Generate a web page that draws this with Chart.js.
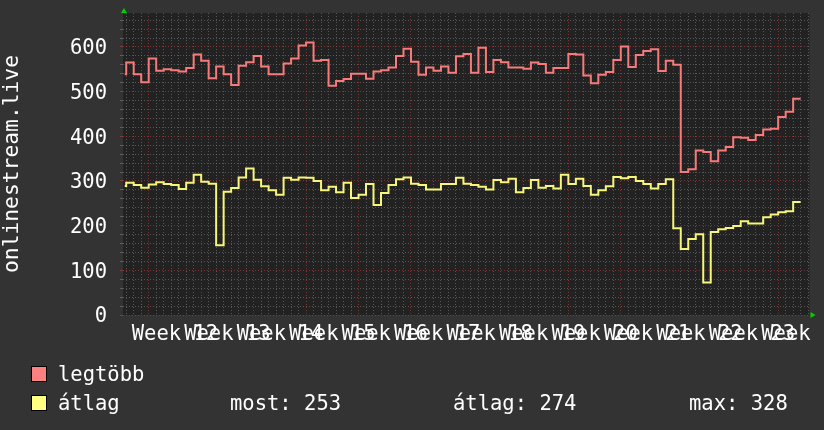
<!DOCTYPE html>
<html>
<head>
<meta charset="utf-8">
<title>onlinestream.live</title>
<script src="https://cdn.jsdelivr.net/npm/chart.js@4.4.1/dist/chart.umd.min.js"></script>
<style>
  html, body { margin: 0; padding: 0; background: #333333; }
  canvas { display: block; }
</style>
</head>
<body>
<canvas id="chart" width="824" height="430"></canvas>
<script>
// Daily values, first entry is day -4 (partly visible), week 12 starts at day 0
const firstDay = -4;
const legtobb = [
  539, 565, 539, 521,
  574, 547, 550, 548, 545, 553, 583,
  569, 530, 556, 539, 515, 558, 566,
  580, 556, 539, 539, 563, 574, 603,
  610, 569, 571, 513, 524, 528, 540,
  540, 529, 545, 548, 554, 580, 596,
  567, 538, 554, 547, 556, 542, 579,
  584, 542, 598, 544, 571, 566, 554,
  554, 551, 565, 562, 542, 553, 553,
  584, 583, 536, 519, 538, 544, 571,
  601, 555, 582, 591, 595, 546, 569,
  560, 320, 326, 368, 365, 344, 368,
  376, 398, 397, 392, 403, 415, 417,
  443, 455, 484
];
const atlag = [
  289, 296, 291, 285,
  292, 297, 293, 291, 282, 296, 314,
  298, 294, 156, 276, 284, 308, 328,
  303, 288, 279, 269, 307, 303, 308,
  307, 300, 279, 287, 275, 296, 262,
  269, 293, 246, 273, 291, 304, 308,
  294, 291, 281, 281, 293, 293, 307,
  294, 291, 287, 281, 302, 297, 305,
  275, 284, 302, 285, 289, 283, 314,
  293, 305, 289, 269, 279, 288, 309,
  306, 309, 300, 293, 283, 293, 304,
  194, 148, 170, 181, 73, 186, 192,
  195, 199, 210, 205, 205, 219, 225,
  230, 232, 253
];
const weekLabels = ['Week 12', 'Week 13', 'Week 14', 'Week 15', 'Week 16', 'Week 17', 'Week 18',
  'Week 19', 'Week 20', 'Week 21', 'Week 22', 'Week 23', 'Week 24'];
const legendNames = ['legtöbb', 'átlag'];
const statsText = ['most: 253', 'átlag: 274', 'max: 328'];

const FONT = '"DejaVu Sans Mono", monospace';
const RED = '#f87a7a';
const YELLOW = '#f6f67a';
const GRID_MINOR = 'rgba(130,130,130,0.55)';
const GRID_MAJOR = 'rgba(190,60,60,0.6)';
const X_MIN = -3.43, X_MAX = 88.18, Y_MAX = 676;
const dataStart = -3.2;

// step points: each value holds from its day start to the next day start
function stepPoints(values) {
  const pts = values.map((v, i) => ({ x: Math.max(firstDay + i, dataStart), y: v }));
  pts.push({ x: firstDay + values.length, y: values[values.length - 1] });
  return pts;
}

function isWeekLabel(v) {
  const k = (v - 3.5) / 7;
  return Number.isInteger(k) && k >= 0 && k < weekLabels.length;
}

const chromePlugin = {
  id: 'chrome',
  beforeDraw(chart) {
    const { ctx, chartArea: a } = chart;
    ctx.save();
    ctx.fillStyle = '#333333';
    ctx.fillRect(0, 0, chart.width, chart.height);
    ctx.fillStyle = '#222222';
    ctx.fillRect(a.left, a.top, a.right - a.left, a.bottom - a.top);
    ctx.restore();
  },
  afterDraw(chart) {
    const { ctx, chartArea: a } = chart;
    ctx.save();
    // green arrows at the axis ends
    ctx.fillStyle = '#00d000';
    ctx.beginPath();
    ctx.moveTo(a.left - 2, a.top);
    ctx.lineTo(a.left + 4, a.top);
    ctx.lineTo(a.left + 1, a.top - 5);
    ctx.closePath();
    ctx.fill();
    ctx.beginPath();
    ctx.moveTo(a.right + 1, a.bottom - 3);
    ctx.lineTo(a.right + 1, a.bottom + 3);
    ctx.lineTo(a.right + 6, a.bottom);
    ctx.closePath();
    ctx.fill();

    // legend
    ctx.font = '20.5px ' + FONT;
    ctx.textBaseline = 'middle';
    const rows = [374, 403];
    ['#ff8080', '#ffff80'].forEach((c, i) => {
      ctx.fillStyle = c;
      ctx.fillRect(31, rows[i] - 8, 16, 16);
      ctx.strokeStyle = '#000000';
      ctx.lineWidth = 1;
      ctx.strokeRect(31.5, rows[i] - 7.5, 15, 15);
      ctx.fillStyle = '#ffffff';
      ctx.fillText(legendNames[i], 58, rows[i] + 2);
    });
    const statX = [230, 453, 689];
    statsText.forEach((t, i) => ctx.fillText(t, statX[i], rows[1] + 2));
    ctx.restore();
  }
};

new Chart(document.getElementById('chart'), {
  type: 'line',
  data: {
    datasets: [
      { label: legendNames[0], data: stepPoints(legtobb), borderColor: RED, borderWidth: 2,
        stepped: true, pointRadius: 0, fill: false },
      { label: legendNames[1], data: stepPoints(atlag), borderColor: YELLOW, borderWidth: 2,
        stepped: true, pointRadius: 0, fill: false }
    ]
  },
  options: {
    responsive: false,
    animation: false,
    devicePixelRatio: 1,
    layout: { padding: { top: 13, right: 14.5, bottom: 0, left: 0 } },
    plugins: { legend: { display: false }, tooltip: { enabled: false } },
    scales: {
      x: {
        type: 'linear',
        min: X_MIN,
        max: X_MAX,
        afterBuildTicks(scale) {
          const ticks = [];
          for (let d = Math.ceil(X_MIN * 2) / 2; d <= X_MAX; d += 0.5) ticks.push({ value: d });
          scale.ticks = ticks;
        },
        afterFit(scale) {
          scale.height = 115;
          scale.paddingLeft = 0;
          scale.paddingRight = 0;
        },
        border: { display: false, dash: [1, 2] },
        grid: {
          drawTicks: false,
          color(ctx) {
            const v = ctx.tick ? ctx.tick.value : 0;
            if (!Number.isInteger(v)) return 'rgba(0,0,0,0)';
            return v % 7 === 0 ? GRID_MAJOR : GRID_MINOR;
          }
        },
        ticks: {
          autoSkip: false,
          maxRotation: 0,
          minRotation: 0,
          padding: 7,
          color: '#ffffff',
          font: { family: FONT, size: 20.5 },
          callback(v) {
            return isWeekLabel(v) ? weekLabels[(v - 3.5) / 7] : '';
          }
        }
      },
      y: {
        min: 0,
        max: Y_MAX,
        afterBuildTicks(scale) {
          const ticks = [];
          for (let v = 0; v < Y_MAX; v += 20) ticks.push({ value: v });
          scale.ticks = ticks;
        },
        afterFit(scale) {
          scale.width = 123;
          scale.paddingTop = 0;
          scale.paddingBottom = 0;
        },
        border: { display: false, dash: [1, 2] },
        grid: {
          tickLength: 3,
          color(ctx) {
            const v = ctx.tick ? ctx.tick.value : 0;
            return v % 100 === 0 ? GRID_MAJOR : GRID_MINOR;
          },
          tickColor(ctx) {
            const v = ctx.tick ? ctx.tick.value : 0;
            return v % 100 === 0 ? GRID_MAJOR : GRID_MINOR;
          }
        },
        title: {
          display: true,
          text: 'onlinestream.live',
          color: '#ffffff',
          font: { family: FONT, size: 21.3 },
          padding: { top: 0, bottom: 0 }
        },
        ticks: {
          autoSkip: false,
          padding: 13,
          labelOffset: 2,
          color: '#ffffff',
          font: { family: FONT, size: 20.5 },
          callback(v) { return v % 100 === 0 ? String(v) : ''; }
        }
      }
    }
  },
  plugins: [chromePlugin]
});
</script>
</body>
</html>
